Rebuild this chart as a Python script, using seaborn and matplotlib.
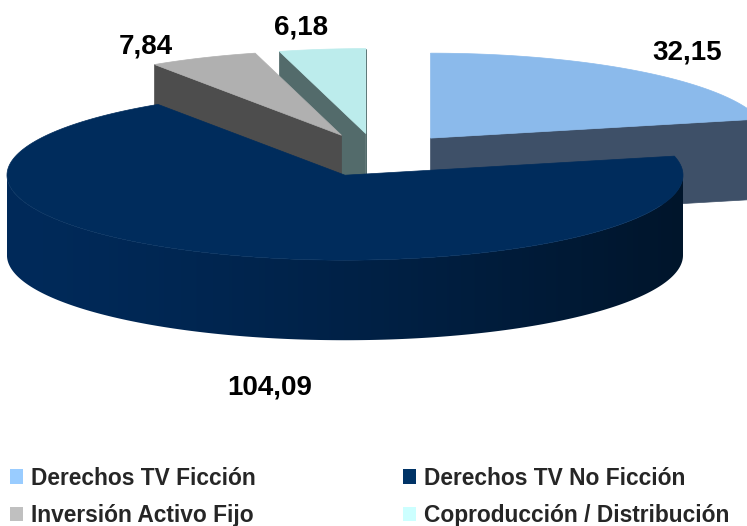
import numpy as np
import matplotlib
matplotlib.use("Agg")
import matplotlib.pyplot as plt
from matplotlib.patches import Polygon, Patch
from matplotlib.colors import to_rgb
import seaborn as sns

# data
categories = ['Derechos TV Ficción', 'Derechos TV No Ficción',
              'Inversión Activo Fijo', 'Coproducción / Distribución']
values = [32.15, 104.09, 7.84, 6.18]

# colours: legend swatch, lit top, cut face
legend_colors = ['#99CCFF', '#003366', '#C0C0C0', '#CCFFFF']
top_colors = ['#8BBAEB', '#002C5C', '#B0B0B0', '#BCECEC']
face_colors = ['#3E5068', '#001E40', '#4D4D4D', '#536B6B']
wall_left, wall_right = '#002A5A', '#00152B'

sns.set_theme(style='white')
plt.rcParams['font.family'] = ['Liberation Sans', 'DejaVu Sans']

TILT = 0.2515     # vertical squash of the pie top
DEPTH = 0.237     # thickness of the pie
EXPLODE = 0.255
LABEL_RX = [1.22, 0.60, 1.41, 1.49]
LABEL_RY = [1.34, 1.64, 1.18, 1.30]


def rim(c, th):
    t = np.radians(th)
    return np.column_stack([c[0] + np.cos(t), c[1] + TILT * np.sin(t)])


fig = plt.figure(figsize=(7.47, 5.26), dpi=100)
ax = fig.add_axes([0, 0, 1, 1])
xlim, ylim = (-1.115, 1.095), (-1.098, 0.459)
ax.set_xlim(*xlim)
ax.set_ylim(*ylim)
ax.axis('off')

total = sum(values)
spans = [v / total * 360 for v in values]
wedges = []
hi = 90.0
for i, s in enumerate(spans):
    lo = hi - s
    mid = np.radians((lo + hi) / 2)
    c = (EXPLODE * np.cos(mid), EXPLODE * TILT * np.sin(mid))
    wedges.append((i, lo, hi, c))
    hi = lo

cl, cr = np.array(to_rgb(wall_left)), np.array(to_rgb(wall_right))

# back to front
z = 1
for i, lo, hi, c in sorted(wedges, key=lambda w: -w[3][1]):
    down = np.array([0, DEPTH])
    # outer wall on the front half, shaded left to right
    for k in (-1, 0, 1):
        a, b = max(lo, -180 + 360 * k), min(hi, 360 * k)
        if a >= b:
            continue
        seg = rim(c, np.linspace(a, b, 300))
        poly = Polygon(np.vstack([seg, seg[::-1] - down]), closed=True,
                       fc='none', ec='none', zorder=z)
        ax.add_patch(poly)
        xs = np.linspace(c[0] - 1, c[0] + 1, 400)
        f = ((xs - c[0]) + 1) / 2
        grad = cl + (cr - cl) * (f ** 1.3)[:, None]
        im = ax.imshow(grad[None, :, :], aspect='auto', zorder=z,
                       extent=(c[0] - 1, c[0] + 1, seg[:, 1].min() - DEPTH - 0.01,
                               seg[:, 1].max() + 0.01),
                       interpolation='bilinear')
        im.set_clip_path(poly)
    z += 1
    # cut faces
    for th, vis in ((lo, np.cos(np.radians(lo)) > 0),
                    (hi, np.cos(np.radians(hi)) < 0)):
        if vis:
            p = rim(c, np.array([th]))[0]
            poly = [c, p, p - down, np.array(c) - down]
            ax.add_patch(Polygon(poly, closed=True, fc=face_colors[i],
                                 ec=face_colors[i], lw=0.5, zorder=z))
    z += 1
    # top
    arc = rim(c, np.linspace(lo, hi, 200))
    poly = np.vstack([[c], arc])
    ax.add_patch(Polygon(poly, closed=True, fc=top_colors[i],
                         ec=top_colors[i], lw=0.5, zorder=z))
    z += 1

ax.set_xlim(*xlim)
ax.set_ylim(*ylim)

# value labels
for i, lo, hi, c in wedges:
    m = np.radians((lo + hi) / 2)
    x = c[0] + LABEL_RX[i] * np.cos(m)
    y = c[1] + LABEL_RY[i] * TILT * np.sin(m) - 0.009
    if np.sin(m) < 0:
        y -= DEPTH
    ax.text(x, y, f'{values[i]:.2f}'.replace('.', ','), ha='center',
            va='center', fontsize=20, fontweight='bold', color='black',
            zorder=50)

handles = [Patch(fc=col, ec='none') for col in legend_colors]
order = [0, 2, 1, 3]
fig.legend([handles[j] for j in order], [categories[j] for j in order],
           ncol=2, loc='upper left', bbox_to_anchor=(0.013, 0.113),
           frameon=False, borderpad=0, borderaxespad=0,
           handlelength=0.58, handleheight=0.58, handletextpad=0.35,
           columnspacing=6.45, labelspacing=0.64,
           prop={'size': 16.4, 'weight': 'bold'})

fig.savefig('out.png', dpi=100)
